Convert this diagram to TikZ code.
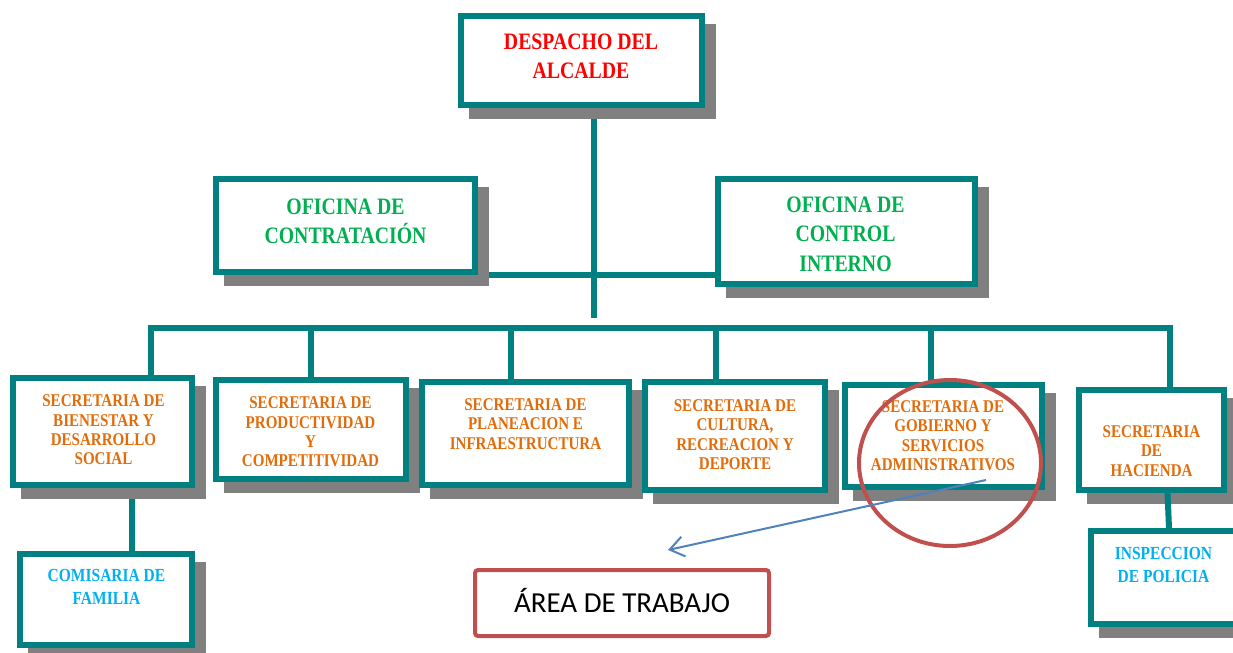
\documentclass[tikz,border=0pt]{standalone}
\usepackage{fontspec}
\setmainfont{Liberation Serif}
\newfontfamily\orgfont[FakeStretch=0.84]{Liberation Serif}
\newfontfamily\notefont{Carlito}
\usepackage{tikz}
\usetikzlibrary{calc,positioning,backgrounds,arrows.meta}
\newlength{\pix}
\setlength{\pix}{0.02cm}
\definecolor{orgteal}{RGB}{0,128,128}
\definecolor{shadowgray}{RGB}{128,128,128}
\definecolor{headred}{RGB}{255,0,0}
\definecolor{officegreen}{RGB}{0,176,80}
\definecolor{secorange}{RGB}{227,108,10}
\definecolor{subcyan}{RGB}{0,176,240}
\definecolor{markred}{RGB}{192,80,77}
\definecolor{arrowblue}{RGB}{79,129,189}
\tikzset{
    unit/.style={draw=orgteal, line width=6\pix, fill=white, inner sep=0pt,
        preaction={draw=shadowgray, fill=shadowgray,
            transform canvas={shift={(11\pix,-11\pix)}}}},
    link/.style={draw=orgteal, line width=6\pix},
    headtxt/.style={font=\orgfont\bfseries\fontsize{13.4}{16.7}\selectfont, align=center},
    sectxt/.style={font=\orgfont\bfseries\fontsize{10.2}{11.05}\selectfont, align=center, text=secorange},
    subtxt/.style={font=\orgfont\bfseries\fontsize{10.5}{13}\selectfont, align=center, text=subcyan},
    ring/.style={draw=markred, line width=4\pix},
    pointer/.style={draw=arrowblue, line width=2\pix, -{Straight Barb[length=0.28cm, width=0.4cm]}},
    notebox/.style={draw=markred, line width=4\pix, rounded corners=3\pix, inner sep=0pt,
        font=\notefont\fontsize{16.5}{19}\selectfont, text height=10.6pt, text depth=0pt}
}

\begin{document}
\begin{tikzpicture}[x=0.02cm, y=-0.02cm]

    \useasboundingbox (0,0) rectangle (1233,652);
    \clip (0,0) rectangle (1233,652);

    % Top offices.
    \node[unit, minimum width=241\pix, minimum height=89\pix] (despacho) at (581.5,60.5) {};
    \node[unit, minimum width=259\pix, minimum height=93\pix] (contratacion) at (345.5,225.5) {};
    \node[unit, minimum width=257\pix, minimum height=105\pix] (control) at (846.5,231.5) {};

    % Secretarias.
    \node[unit, minimum width=179\pix, minimum height=107\pix] (bienestar) at (102.5,431.5) {};
    \node[unit, minimum width=190\pix, minimum height=99\pix] (productividad) at (311,429.5) {};
    \node[unit, minimum width=207\pix, minimum height=103\pix] (planeacion) at (525.5,433.5) {};
    \node[unit, minimum width=180\pix, minimum height=108\pix] (cultura) at (735,436) {};
    \node[unit, minimum width=197\pix, minimum height=102\pix] (gobierno) at (943.5,436) {};
    \node[unit, minimum width=145\pix, minimum height=100\pix] (hacienda) at (1151.5,440) {};

    % Dependent units.
    \node[unit, minimum width=172\pix, minimum height=91\pix] (comisaria) at (106,599.5) {};
    \node[unit, minimum width=160\pix, minimum height=93\pix] (inspeccion) at (1171,577.5) {};

    % Texts.
    \node[headtxt, text=headred] (despacho-t) at (581,56.5) {DESPACHO DEL\\ALCALDE};
    \node[headtxt, text=officegreen] (contratacion-t) at (345.5,221) {OFICINA DE\\CONTRATACIÓN};
    \begin{scope}
        \clip (718,179) rectangle (975,270.5);
        \node[headtxt, text=officegreen] (control-t) at (845.5,234) {OFICINA DE\\CONTROL\\INTERNO};
    \end{scope}
    \node[sectxt] (bienestar-t) at (103.5,430) {SECRETARIA DE\\BIENESTAR Y\\DESARROLLO\\SOCIAL};
    \node[sectxt] (productividad-t) at (310.5,432) {SECRETARIA DE\\PRODUCTIVIDAD\\Y\\COMPETITIVIDAD};
    \node[sectxt] (planeacion-t) at (525.5,424) {SECRETARIA DE\\PLANEACION E\\INFRAESTRUCTURA};
    \node[sectxt] (cultura-t) at (735,434.5) {SECRETARIA DE\\CULTURA,\\RECREACION Y\\DEPORTE};
    \node[sectxt] (gobierno-t) at (943,435.5) {SECRETARIA DE\\GOBIERNO Y\\SERVICIOS\\ADMINISTRATIVOS};
    \node[sectxt] (hacienda-t) at (1151.5,451) {SECRETARIA\\DE\\HACIENDA};
    \node[subtxt] (comisaria-t) at (106.5,587) {COMISARIA DE\\FAMILIA};
    \node[subtxt] (inspeccion-t) at (1163.5,565) {INSPECCION\\DE POLICIA};

    % Connectors behind the boxes.
    \coordinate (hub) at (594,318);
    \begin{scope}[on background layer]
        \draw[link] (despacho.south -| hub) -- (hub);
        \draw[link] (contratacion.south east) -- (contratacion.south east -| control.west);
        \draw[link] (bienestar.north -| 150.5,0) |- (1170,328) -- (hacienda.north -| 1170,0);
        \foreach \n/\x in {productividad/310.5, planeacion/511, cultura/716, gobierno/931}
            \draw[link] (\x,328) -- (\n.north -| \x,328);
        \draw[link] ($(bienestar.south)+(29.5,0)$) -- ($(comisaria.north)+(26,0)$);
    \end{scope}
    \draw[link] ($(hacienda.south)+(16,0)$) -- ($(inspeccion.north)+(-2,0)$);

    % Work area mark.
    \node[notebox, minimum width=294\pix, minimum height=66\pix] (area) at (622,603) {ÁREA DE TRABAJO};
    \draw[ring] (950,463) ellipse [x radius=91, y radius=83];
    \coordinate (mark) at (986,480);
    \coordinate (aim) at (668,550);
    \draw[pointer] (mark) -- (aim);
\end{tikzpicture}
\end{document}
